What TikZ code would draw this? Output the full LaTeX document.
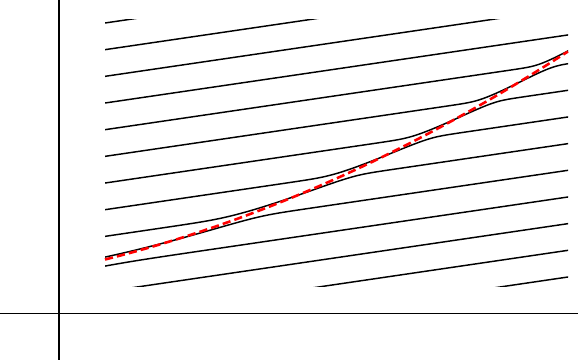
\documentclass[tikz,border=0pt]{standalone}
\usepackage{tikz}

\pgfmathdeclarefunction{uof}{2}{%
  \pgfmathparse{(sqrt(max(108.37+17.12*(#2-4.2*sinh(#1)-12.33*tanh(max(min(sinh(#1),4.5),-4.5))),0))-10.41)/8.56}%
}

\begin{document}
\begin{tikzpicture}[x=0.03cm, y=-0.03cm,
    axisline/.style={black, line width=1.2pt},
    isoline/.style={black, line width=1.25pt},
    ridge/.style={red, line width=2.2pt, dash pattern=on 7pt off 3.5pt}
]
\useasboundingbox (0,0) rectangle (581,360);
\coordinate (ytop) at (59,0);
\coordinate (ybot) at (59,360);
\coordinate (xleft) at (0,313.5);
\coordinate (xright) at (578,313.5);
\draw[axisline] (ytop) -- (ybot);
\draw[axisline] (xleft) -- (xright);
\begin{scope}
\clip (105,19.3) rectangle (568,286.2);
\foreach \n in {0,...,13}{
  \pgfmathsetmacro\Q{248.83-26.67*\n}
  \draw[isoline] plot[variable=\t, domain=-5:5, samples=301]
    ({105+100*uof(\t,\Q)}, {259.5-25.11*uof(\t,\Q)-4.28*uof(\t,\Q)^2-4.2*sinh(\t)});
}
\end{scope}
\draw[ridge] plot[variable=\u, domain=0:4.63, samples=60] ({105+100*\u}, {259.5-25.11*\u-4.28*\u^2});
\end{tikzpicture}
\end{document}
